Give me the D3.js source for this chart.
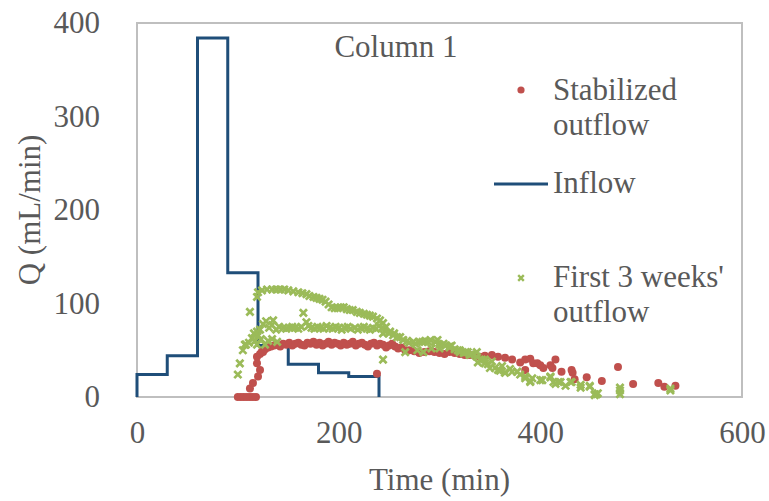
<!DOCTYPE html>
<html>
<head>
<meta charset="utf-8">
<script src="https://cdn.jsdelivr.net/npm/d3@7"></script>
<style>
  body { margin: 0; background: #fff; }
  text { font-family: "Liberation Serif", "Times New Roman", serif; fill: #595959; }
</style>
</head>
<body>
<script>
// Inflow hydrograph (step)
var inflowTime = [0, 0, 30, 60, 90, 120, 150, 180, 210, 240];
var inflowQ = [0, 24, 44, 384, 133, 55, 35, 26, 22, 0];

// Stabilized outflow, [time (min), Q (mL/min)]
var stabilized = [
    [100, 0], [103, 0], [106, 0], [109, 0], [112, 0], [115, 0], [118, 0],
    [112, 9], [115, 15], [120, 22], [122, 29], [119, 36], [119, 43], [122, 46], [124, 49],
    [125, 48], [127, 51], [130, 53], [133, 54], [136, 55], [139, 56], [142, 54], [145, 57],
    [148, 56], [151, 58], [154, 55], [157, 57], [160, 58], [163, 56], [166, 55], [169, 58],
    [172, 57], [175, 59], [178, 56], [181, 58], [184, 55], [187, 57], [190, 59], [193, 56],
    [196, 58], [199, 57], [202, 55], [205, 58], [208, 56], [211, 57], [214, 59], [217, 55],
    [220, 57], [223, 58], [226, 56], [229, 54], [232, 57], [235, 58], [238, 55], [241, 57],
    [244, 56], [247, 53], [250, 55], [253, 57], [256, 54], [259, 52], [262, 53], [266, 50],
    [238, 25],
    [270, 50], [275, 49], [280, 47], [285, 48], [290, 49], [295, 48], [300, 47], [305, 46],
    [310, 48], [315, 47], [320, 46], [325, 45], [330, 45], [335, 44], [340, 43], [345, 44],
    [352, 45], [358, 43], [365, 42], [372, 40], [380, 37], [385, 40], [390, 41], [393, 36],
    [397, 36], [400, 34], [403, 31], [385, 29], [410, 34], [412, 31], [415, 40], [421, 27],
    [431, 29], [432, 26], [434, 19], [446, 21], [461, 17], [477, 32], [492, 14], [517, 15],
    [523, 11], [534, 12]
];

// First 3 weeks' outflow, [time (min), Q (mL/min)]
var firstWeeks = [
    // top run
    [100, 24], [102, 36], [107, 56], [112, 91], [119, 107], [120, 112], [124, 114], [129, 115],
    [134, 115], [138, 115], [142, 115], [146, 115], [150, 114], [155, 113], [160, 112], [164, 111],
    [168, 110], [171, 108], [175, 107], [178, 106], [181, 105], [184, 104], [187, 102], [190, 99],
    [193, 96], [196, 95], [199, 95], [202, 96], [205, 96], [208, 94], [211, 93], [214, 93],
    [218, 91], [221, 90], [225, 89], [228, 88], [231, 87], [234, 86], [238, 84], [241, 82],
    [244, 79], [247, 75], [251, 70], [255, 68], [261, 64], [268, 60], [274, 59], [280, 59],
    [286, 60], [291, 61], [296, 59], [300, 56], [306, 55], [310, 54], [315, 51], [320, 50],
    [326, 48], [332, 46], [337, 48], [342, 40], [348, 35], [355, 31], [360, 28], [365, 26],
    [372, 27], [377, 27], [385, 20], [390, 16], [400, 18], [410, 22], [413, 16], [420, 16],
    [431, 16], [440, 13], [449, 11], [454, 3], [457, 4], [479, 7], [479, 3], [529, 7],
    // middle run
    [116, 68], [119, 70], [122, 72], [125, 78], [128, 81], [131, 74], [134, 77], [135, 82],
    [138, 72], [141, 75], [145, 74], [148, 73], [151, 74], [154, 75], [157, 74], [160, 73],
    [163, 75], [165, 90], [168, 80], [170, 76], [173, 74], [176, 73], [179, 75], [182, 74],
    [185, 73], [188, 76], [191, 74], [194, 73], [197, 75], [200, 74], [203, 72], [206, 74],
    [209, 75], [212, 73], [216, 74], [219, 72], [222, 74], [225, 75], [228, 73], [231, 72],
    [234, 74], [237, 73], [240, 76], [243, 74], [244, 68], [246, 70], [250, 68], [254, 66],
    [258, 64], [264, 61], [270, 58], [276, 57], [283, 59], [289, 59], [298, 61], [304, 57],
    [312, 55], [318, 50], [324, 47], [330, 45], [338, 37], [345, 36], [350, 31], [358, 29],
    [365, 26], [377, 27], [385, 22], [390, 17], [410, 21], [418, 16], [430, 16], [449, 12],
    [456, 3],
    // low run
    [105, 50], [108, 56], [111, 58], [114, 63], [117, 60], [119, 56], [120, 66], [123, 62],
    [127, 56], [130, 60], [134, 62], [139, 59], [244, 40], [266, 48], [278, 50], [284, 48],
    [292, 52], [300, 52], [310, 53], [320, 48], [328, 48], [337, 43], [345, 40], [352, 38],
    [362, 33], [370, 30], [380, 24], [392, 20], [402, 18], [415, 14], [425, 12], [440, 10],
    [454, 2], [479, 10], [529, 9]
];

var xTicks = [0, 200, 400, 600];
var yTicks = [0, 100, 200, 300, 400];

var width = 769, height = 501;
var plot = { left: 137, right: 742, top: 23, bottom: 397 };

var x = d3.scaleLinear().domain([0, 600]).range([plot.left, plot.right]);
var y = d3.scaleLinear().domain([0, 400]).range([plot.bottom, plot.top]);

var svg = d3.select('body').append('svg')
    .attr('width', width)
    .attr('height', height);

// plot frame
svg.append('rect')
    .attr('x', plot.left)
    .attr('y', plot.top)
    .attr('width', plot.right - plot.left)
    .attr('height', plot.bottom - plot.top)
    .attr('fill', 'none')
    .attr('stroke', '#bfbfbf')
    .attr('stroke-width', 2);

// axes (labels only)
var yAxis = svg.append('g')
    .attr('transform', 'translate(' + (plot.left - 37) + ',0)')
    .call(d3.axisLeft(y).tickValues(yTicks).tickSize(0).tickPadding(0));
var xAxis = svg.append('g')
    .attr('transform', 'translate(0,' + (plot.bottom + 24) + ')')
    .call(d3.axisBottom(x).tickValues(xTicks).tickSize(0).tickPadding(0));
[xAxis, yAxis].forEach(function (g) {
    g.select('.domain').remove();
    g.selectAll('text')
        .attr('font-family', '"Liberation Serif", "Times New Roman", serif')
        .attr('font-size', 31)
        .attr('fill', '#595959');
});

// inflow step line
var inflow = inflowTime.map(function (t, i) { return [t, inflowQ[i]]; });
var line = d3.line()
    .x(function (d) { return x(d[0]); })
    .y(function (d) { return y(d[1]); })
    .curve(d3.curveStepAfter);
svg.append('path')
    .datum(inflow)
    .attr('d', line)
    .attr('fill', 'none')
    .attr('stroke', '#1f4e79')
    .attr('stroke-width', 3);

// stabilized outflow
svg.append('g').selectAll('circle')
    .data(stabilized)
    .enter().append('circle')
    .attr('cx', function (d) { return x(d[0]); })
    .attr('cy', function (d) { return y(d[1]); })
    .attr('r', 4)
    .attr('fill', '#c0504d');

// first 3 weeks
var cross = 'M-3.6,-3.6L3.6,3.6M-3.6,3.6L3.6,-3.6';
svg.append('g').selectAll('path')
    .data(firstWeeks)
    .enter().append('path')
    .attr('transform', function (d) { return 'translate(' + x(d[0]) + ',' + y(d[1]) + ')'; })
    .attr('d', cross)
    .attr('stroke', '#9bbb59')
    .attr('stroke-width', 2.7)
    .attr('fill', 'none');

// titles
svg.append('text')
    .attr('x', (plot.left + plot.right) / 2)
    .attr('y', 490)
    .attr('text-anchor', 'middle')
    .attr('font-size', 31)
    .text('Time (min)');
svg.append('text')
    .attr('transform', 'translate(40,' + (plot.top + plot.bottom) / 2 + ') rotate(-90)')
    .attr('text-anchor', 'middle')
    .attr('font-size', 31)
    .text('Q (mL/min)');
svg.append('text')
    .attr('x', 396)
    .attr('y', 57)
    .attr('text-anchor', 'middle')
    .attr('font-size', 31)
    .text('Column 1');

// legend
var lg = svg.append('g');
lg.append('circle').attr('cx', 521).attr('cy', 90).attr('r', 3.6).attr('fill', '#c0504d');
lg.append('text').attr('x', 553).attr('y', 100).attr('font-size', 31).text('Stabilized');
lg.append('text').attr('x', 553).attr('y', 135).attr('font-size', 31).text('outflow');
lg.append('line').attr('x1', 494).attr('x2', 548).attr('y1', 184).attr('y2', 184)
    .attr('stroke', '#1f4e79').attr('stroke-width', 3);
lg.append('text').attr('x', 553).attr('y', 193).attr('font-size', 31).text('Inflow');
lg.append('path').attr('transform', 'translate(521,278)').attr('d', 'M-2.8,-2.8L2.8,2.8M-2.8,2.8L2.8,-2.8')
    .attr('stroke', '#9bbb59').attr('stroke-width', 2.4).attr('fill', 'none');
lg.append('text').attr('x', 553).attr('y', 287).attr('font-size', 31).text("First 3 weeks'");
lg.append('text').attr('x', 553).attr('y', 322).attr('font-size', 31).text('outflow');
</script>
</body>
</html>
